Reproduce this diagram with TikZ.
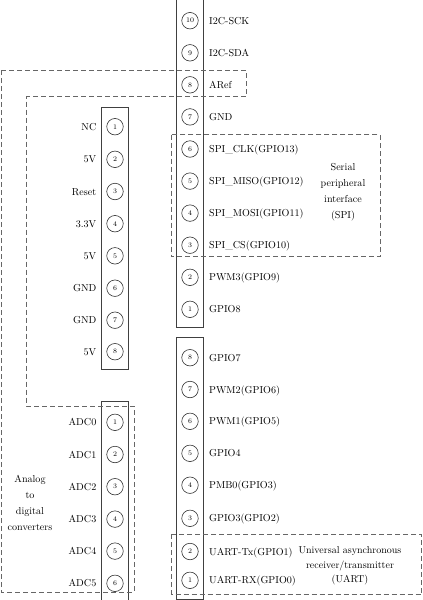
\documentclass[tikz,border=0pt]{standalone}
\begin{document}
\begin{tikzpicture}[x=1pt,y=-1pt,
  pin/.style={circle,draw=black!80,line width=0.6pt,minimum size=16.5pt,inner sep=0pt,font=\fontsize{7}{8}\selectfont},
  rlab/.style={anchor=base west,inner sep=0pt,font=\fontsize{10.1}{12}\selectfont},
  llab/.style={anchor=base east,inner sep=0pt,font=\fontsize{10.1}{12}\selectfont},
  note/.style={align=center,inner sep=0pt},
  header/.style={draw=black!75,line width=0.7pt},
  grp/.style={draw=black!60,line width=0.6pt,dash pattern=on 5pt off 3pt}]
\useasboundingbox (0,0) rectangle (423,600);
% headers
\draw[header] (176.7,-2) rectangle (203.3,327);
\draw[header] (176.7,337) rectangle (203.3,599.5);
\draw[header] (101.7,107.3) rectangle (128.3,369);
\draw[header] (101.7,401.7) rectangle (128.3,602);
% dashed groups
\draw[grp] (1,70) -- (246,70) -- (246,96.7) -- (26.7,96.7) -- (26.7,406) -- (134,406) -- (134,592.3) -- (1,592.3) -- cycle;
\draw[grp] (171,134.5) rectangle (380,256.7);
\draw[grp] (171.7,534.3) rectangle (421.7,594.5);
% upper right header
\foreach \n/\y/\t in {10/20.7/I2C-SCK, 9/52.8/I2C-SDA, 8/84.8/ARef, 7/116.9/GND,
  6/149/SPI\_CLK(GPIO13), 5/181.1/SPI\_MISO(GPIO12), 4/213.1/SPI\_MOSI(GPIO11),
  3/245.2/SPI\_CS(GPIO10), 2/277.3/PWM3(GPIO9), 1/309.3/GPIO8}{
  \node[pin] (ru\n) at (190,\y) {\n};
  \node[rlab] (rul\n) at (209,\y+3.5) {\t};
}
% lower right header
\foreach \n/\y/\t in {8/357.7/GPIO7, 7/389.5/PWM2(GPIO6), 6/421.3/PWM1(GPIO5), 5/453.3/GPIO4,
  4/485.2/PMB0(GPIO3), 3/518.3/GPIO3(GPIO2), 2/551.5/UART-Tx(GPIO1), 1/580.3/UART-RX(GPIO0)}{
  \node[pin] (rl\n) at (190,\y) {\n};
  \node[rlab] (rll\n) at (209,\y+3.5) {\t};
}
% upper left header
\foreach \n/\y/\t in {1/126.7/NC, 2/159.3/5V, 3/191.5/Reset, 4/223.7/3.3V,
  5/255.8/5V, 6/288.2/GND, 7/320.2/GND, 8/351.7/5V}{
  \node[pin] (lu\n) at (115,\y) {\n};
  \node[llab] (lul\n) at (96.5,\y+3.5) {\t};
}
% lower left header
\foreach \n/\y/\t in {1/422.3/ADC0, 2/454.5/ADC1, 3/486.7/ADC2, 4/519.1/ADC3,
  5/551.1/ADC4, 6/583.3/ADC5}{
  \node[pin] (ll\n) at (115,\y) {\n};
  \node[llab] (lll\n) at (96.5,\y+3.5) {\t};
}
% group captions
\node[note,font=\fontsize{10.1}{16}\selectfont] (spi) at (343,192.5) {Serial\\peripheral\\interface\\(SPI)};
\node[note,font=\fontsize{10}{14.2}\selectfont] (uart) at (350,565.8) {Universal asynchronous\\receiver/transmitter\\(UART)};
\node[note,font=\fontsize{10.1}{15.8}\selectfont] (adc) at (30,503) {Analog\\to\\digital\\converters};
\end{tikzpicture}
\end{document}
